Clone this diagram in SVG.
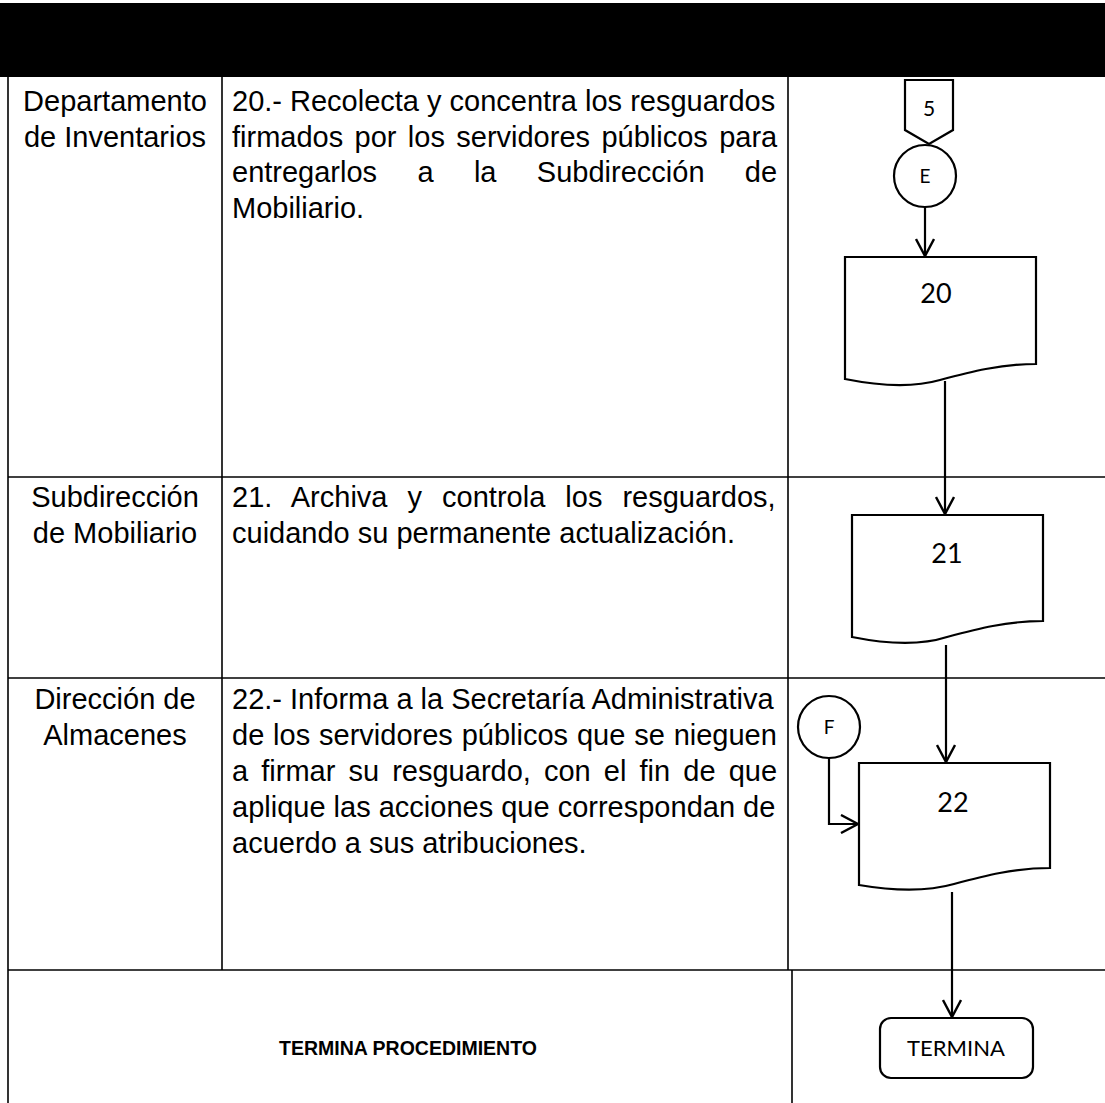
<svg xmlns="http://www.w3.org/2000/svg" width="1105" height="1103" viewBox="0 0 1105 1103">
<style>
.bg{fill:#ffffff}
.hdr{fill:#000000}
.grid{stroke:#000;stroke-width:1.6;fill:none}
.shape{fill:#fff;stroke:#000;stroke-width:2.2}
.conn{fill:none;stroke:#000;stroke-width:2.2}
.txt{font-family:"Liberation Sans",Arial,sans-serif;font-size:29px;fill:#000}
.ctr{text-anchor:middle}
.bold{font-family:"Liberation Sans",Arial,sans-serif;font-size:19.5px;font-weight:bold;fill:#000;text-anchor:middle}
.lbl{font-family:Lato,"Open Sans",sans-serif;fill:#000;text-anchor:middle}
.num{font-size:27px}
.sm{font-size:19px}
</style>
<defs>
<marker id="arr" markerUnits="userSpaceOnUse" viewBox="0 0 20 20" markerWidth="20" markerHeight="20" refX="18" refY="10" orient="auto">
<path d="M1,1 L18,10 L1,19" fill="none" stroke="#000" stroke-width="2.4"/>
</marker>
</defs>
<rect class="bg" x="0" y="0" width="1105" height="1103"/>
<rect class="hdr" x="0" y="3" width="1105" height="74"/>
<g id="table">
<line class="grid" x1="8" y1="77" x2="8" y2="1103"/>
<line class="grid" x1="222" y1="77" x2="222" y2="970"/>
<line class="grid" x1="788" y1="77" x2="788" y2="970"/>
<line class="grid" x1="792" y1="970" x2="792" y2="1103"/>
<line class="grid" x1="8" y1="477" x2="1105" y2="477"/>
<line class="grid" x1="8" y1="678" x2="1105" y2="678"/>
<line class="grid" x1="8" y1="970" x2="1105" y2="970"/>
</g>
<g id="row1-text">
<text class="txt ctr" x="115" y="111">Departamento</text>
<text class="txt ctr" x="115" y="146.5">de Inventarios</text>
<text class="txt" x="232" y="111">20.- Recolecta y concentra los resguardos</text>
<text class="txt" x="232" y="146.5" word-spacing="3.3">firmados por los servidores públicos para</text>
<text class="txt" x="232" y="182" word-spacing="32.3">entregarlos a la Subdirección de</text>
<text class="txt" x="232" y="217.5">Mobiliario.</text>
</g>
<g id="row2-text">
<text class="txt ctr" x="115" y="507">Subdirección</text>
<text class="txt ctr" x="115" y="542.5">de Mobiliario</text>
<text class="txt" x="232" y="507" word-spacing="12">21. Archiva y controla los resguardos,</text>
<text class="txt" x="232" y="542.5">cuidando su permanente actualización.</text>
</g>
<g id="row3-text">
<text class="txt ctr" x="115" y="709">Dirección de</text>
<text class="txt ctr" x="115" y="745">Almacenes</text>
<text class="txt" x="232" y="709">22.- Informa a la Secretaría Administrativa</text>
<text class="txt" x="232" y="745" word-spacing="0.8">de los servidores públicos que se nieguen</text>
<text class="txt" x="232" y="781" word-spacing="5.06">a firmar su resguardo, con el fin de que</text>
<text class="txt" x="232" y="817">aplique las acciones que correspondan de</text>
<text class="txt" x="232" y="853">acuerdo a sus atribuciones.</text>
</g>
<g id="row4-text">
<text class="bold" x="408" y="1055">TERMINA PROCEDIMIENTO</text>
</g>
<g id="connectors">
<line class="conn" x1="925" y1="207" x2="925" y2="256" marker-end="url(#arr)"/>
<line class="conn" x1="945" y1="381" x2="945" y2="514" marker-end="url(#arr)"/>
<line class="conn" x1="946" y1="645" x2="946" y2="762" marker-end="url(#arr)"/>
<line class="conn" x1="952" y1="892" x2="952" y2="1017" marker-end="url(#arr)"/>
<polyline class="conn" points="829,758 829,824 858,824" marker-end="url(#arr)"/>
</g>
<g id="node-offpage-5">
<path class="shape" d="M905,80 H953 V130 L929,144 L905,130 Z"/>
<text class="lbl" x="929" y="116" font-size="21">5</text>
</g>
<g id="node-E">
<circle class="shape" cx="925" cy="176" r="31"/>
<text class="lbl sm" x="925" y="183">E</text>
</g>
<g id="node-20">
<path class="shape" d="M845,257 H1036 V364 C1000,364 970,372 940,380 C912,388 880,386 845,379 Z"/>
<text class="lbl num" x="936" y="303">20</text>
</g>
<g id="node-21">
<path class="shape" d="M852,515 H1043 V621 C1007,621 977,629 947,637 C919,646 887,644 852,637 Z"/>
<text class="lbl num" x="947" y="563">21</text>
</g>
<g id="node-F">
<circle class="shape" cx="829" cy="727" r="31"/>
<text class="lbl sm" x="829" y="734">F</text>
</g>
<g id="node-22">
<path class="shape" d="M859,763 H1050 V868 C1014,868 984,876 954,884 C926,892 894,891 859,885 Z"/>
<text class="lbl num" x="953" y="812">22</text>
</g>
<g id="node-termina">
<rect class="shape" x="880" y="1018" width="153" height="60" rx="11" ry="11"/>
<text class="lbl" x="956" y="1056" font-size="22">TERMINA</text>
</g>
</svg>
